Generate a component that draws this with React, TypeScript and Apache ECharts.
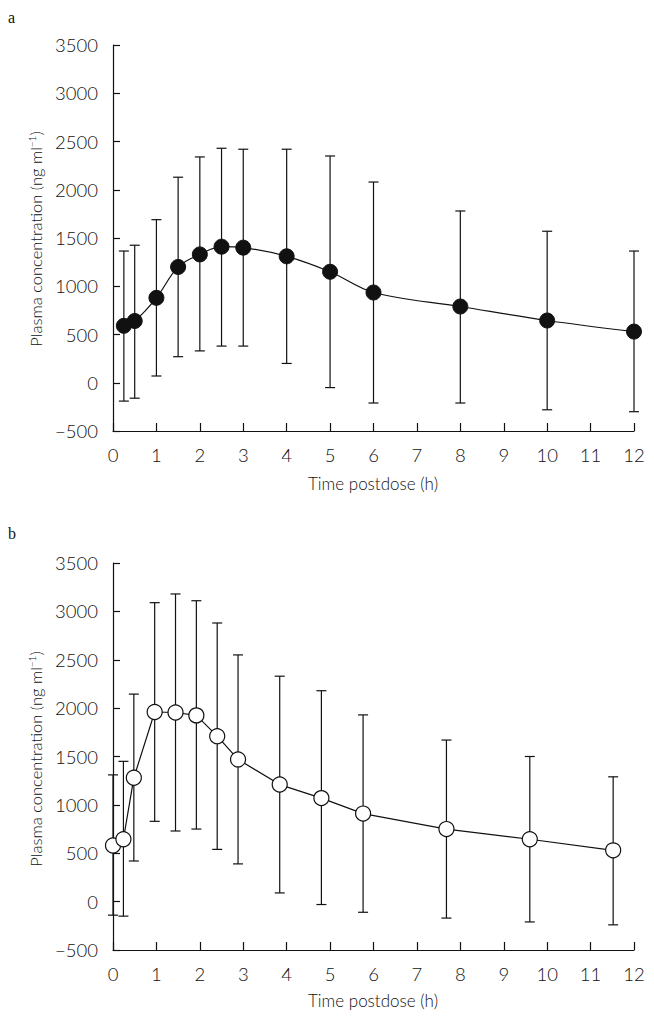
import React, { useEffect, useRef } from 'react';
import * as echarts from 'echarts';

// ---------- data ----------
const xMin = 0;
const xMax = 12;
const xStep = 1;
const yMin = -500;
const yMax = 3500;
const yStep = 500;

// Panel a
const timesA = [0.25, 0.5, 1, 1.5, 2, 2.5, 3, 4, 5, 6, 8, 10, 12];
const meanA = [590, 640, 880, 1200, 1330, 1410, 1400, 1310, 1150, 935, 790, 645, 530];
const upperA = [1365, 1425, 1690, 2130, 2340, 2430, 2420, 2420, 2350, 2080, 1780, 1570, 1365];
const lowerA = [-190, -160, 70, 270, 330, 380, 380, 200, -50, -210, -210, -280, -300];

// Panel b
const timesB = [0, 0.24, 0.48, 0.96, 1.44, 1.92, 2.4, 2.88, 3.84, 4.8, 5.76, 7.68, 9.6, 11.52];
const meanB = [580, 645, 1280, 1960, 1955, 1925, 1710, 1470, 1210, 1070, 910, 750, 645, 530];
const upperB = [1310, 1450, 2145, 3090, 3180, 3110, 2880, 2550, 2330, 2180, 1930, 1670, 1500, 1290];
const lowerB = [-140, -150, 420, 830, 730, 750, 540, 390, 90, -30, -110, -170, -210, -240];

const panelLabels = ['a', 'b'];
const xAxisTitle = 'Time postdose (h)';
const yAxisTitle = 'Plasma concentration (ng ml{sup|−1})';

// ---------- styling ----------
const FONT = 'Lato, "Open Sans", sans-serif';
const INK = '#111';

function makeErrorSeries(idx: number, times: number[], lo: number[], hi: number[]) {
  return {
    type: 'custom',
    xAxisIndex: idx,
    yAxisIndex: idx,
    silent: true,
    clip: false,
    z: 1,
    data: times.map((t, i) => [t, lo[i], hi[i]]),
    encode: { x: 0, y: [1, 2] },
    renderItem: (params: any, api: any) => {
      const x = api.value(0);
      const pLo = api.coord([x, api.value(1)]);
      const pHi = api.coord([x, api.value(2)]);
      const hw = 5;
      const st = { stroke: INK, lineWidth: 1.2 };
      return {
        type: 'group',
        children: [
          { type: 'line', shape: { x1: pLo[0], y1: pLo[1], x2: pHi[0], y2: pHi[1] }, style: st },
          { type: 'line', shape: { x1: pHi[0] - hw, y1: pHi[1], x2: pHi[0] + hw, y2: pHi[1] }, style: st },
          { type: 'line', shape: { x1: pLo[0] - hw, y1: pLo[1], x2: pLo[0] + hw, y2: pLo[1] }, style: st },
        ],
      };
    },
  };
}

function makeAxes(idx: number) {
  const xAxis = {
    type: 'value',
    gridIndex: idx,
    min: xMin,
    max: xMax,
    interval: xStep,
    axisLine: { show: true, onZero: false, lineStyle: { color: INK, width: 1.2 } },
    axisTick: { show: true, inside: true, length: 8, lineStyle: { color: INK, width: 1.2 } },
    axisLabel: { color: INK, fontFamily: FONT, fontSize: 18.5, fontWeight: 300, margin: 14 },
    splitLine: { show: false },
  };
  const yAxis = {
    type: 'value',
    gridIndex: idx,
    min: yMin,
    max: yMax,
    interval: yStep,
    axisLine: { show: true, onZero: false, lineStyle: { color: INK, width: 1.2 } },
    axisTick: { show: true, inside: true, length: 7, lineStyle: { color: INK, width: 1.2 } },
    axisLabel: {
      color: INK,
      fontFamily: FONT,
      fontSize: 18.5,
      fontWeight: 300,
      margin: 15,
      formatter: (v: number) => (v < 0 ? '−' + Math.abs(v) : String(v)),
    },
    splitLine: { show: false },
  };
  return { xAxis, yAxis };
}

export default function App() {
  const ref = useRef<HTMLDivElement>(null);

  useEffect(() => {
    if (!ref.current) return;
    const chart = echarts.init(ref.current, null, { renderer: 'svg' });
    const a0 = makeAxes(0);
    const a1 = makeAxes(1);

    const titleStyle = { fontFamily: FONT, fontWeight: 300, fill: INK };
    const yTitle = (cx: number, cy: number) => ({
      type: 'text',
      x: cx,
      y: cy,
      rotation: Math.PI / 2,
      style: {
        ...titleStyle,
        fontSize: 16.5,
        text: yAxisTitle,
        align: 'center',
        verticalAlign: 'middle',
        rich: {
          sup: { fontFamily: FONT, fontSize: 10, fontWeight: 300, fill: INK, verticalAlign: 'top', padding: [0, 0, 8, 0] },
        },
      },
    });
    const xTitle = (cx: number, cy: number) => ({
      type: 'text',
      x: cx,
      y: cy,
      style: { ...titleStyle, fontSize: 17, text: xAxisTitle, align: 'center', verticalAlign: 'middle' },
    });
    const panel = (t: string, x: number, y: number) => ({
      type: 'text',
      x,
      y,
      style: { text: t, fontFamily: '"Liberation Serif", serif', fontSize: 16, fill: INK, align: 'left', verticalAlign: 'middle' },
    });

    chart.setOption({
      animation: false,
      backgroundColor: '#fff',
      grid: [
        { left: 113, right: 20, top: 45, height: 386, containLabel: false, outerBoundsMode: 'none' },
        { left: 113, right: 20, top: 563, height: 387, containLabel: false, outerBoundsMode: 'none' },
      ],
      xAxis: [a0.xAxis, a1.xAxis],
      yAxis: [a0.yAxis, a1.yAxis],
      series: [
        makeErrorSeries(0, timesA, lowerA, upperA),
        {
          type: 'line',
          xAxisIndex: 0,
          yAxisIndex: 0,
          z: 3,
          smooth: 0.35,
          data: timesA.map((t, i) => [t, meanA[i]]),
          symbol: 'circle',
          symbolSize: 15,
          showAllSymbol: true,
          itemStyle: { color: '#111', borderColor: '#111', borderWidth: 1 },
          lineStyle: { color: INK, width: 1.2 },
        },
        makeErrorSeries(1, timesB, lowerB, upperB),
        {
          type: 'line',
          xAxisIndex: 1,
          yAxisIndex: 1,
          z: 3,
          smooth: false,
          data: timesB.map((t, i) => [t, meanB[i]]),
          symbol: 'circle',
          symbolSize: 15,
          showAllSymbol: true,
          itemStyle: { color: '#fff', borderColor: INK, borderWidth: 1.2 },
          lineStyle: { color: INK, width: 1.2 },
        },
      ],
      graphic: [
        panel(panelLabels[0], 8, 17),
        panel(panelLabels[1], 8, 533),
        yTitle(36, 239),
        yTitle(36, 759),
        xTitle(373, 483),
        xTitle(373, 1000),
      ],
    });
    return () => chart.dispose();
  }, []);

  return (
    <div
      ref={ref}
      style={{ position: 'fixed', left: 0, top: 0, width: 654, height: 1018, background: '#fff' }}
    />
  );
}
